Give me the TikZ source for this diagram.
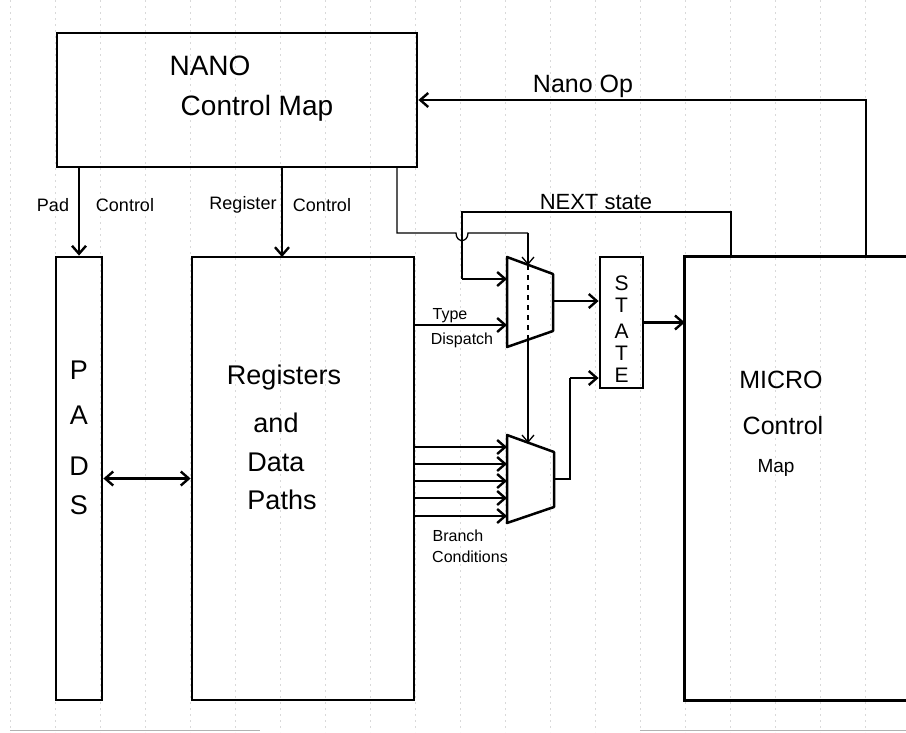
\documentclass[tikz,border=0pt]{standalone}
\usepackage{fontspec}
\setmainfont{Liberation Sans}
\usetikzlibrary{arrows.meta}
\tikzset{
  blk/.style={draw, line width=2.8pt, inner sep=0pt},
  arr/.style={line width=2.5pt, -{Straight Barb[length=8pt,width=14pt,line width=2.4pt]}},
  darr/.style={line width=2.5pt, {Straight Barb[length=8pt,width=14pt,line width=2.4pt]}-{Straight Barb[length=8pt,width=14pt,line width=2.4pt]}},
  tarr/.style={line width=1.3pt, -{Straight Barb[length=7pt,width=12pt,line width=1.3pt]}},
  wire/.style={line width=2.5pt},
  twire/.style={line width=1.3pt},
  muxl/.style={line width=2.5pt, line join=round},
  grid/.style={gray!30, line width=0.5pt, dash pattern=on 2pt off 4pt},
  lbl/.style={inner sep=0pt, font=\fontsize{#1}{#1}\selectfont},
}
\begin{document}
\begin{tikzpicture}[x=1pt,y=-1pt]
\useasboundingbox (0,0) rectangle (906,732);
% graph paper background
\foreach \gx in {10,55,...,865} { \draw[grid] (\gx,0) -- (\gx,732); }
\draw[gray!60, line width=0.8pt] (10,730) -- (260,730);
\draw[gray!60, line width=0.8pt] (640,730) -- (906,730);

% main blocks
\node[blk, minimum width=360pt, minimum height=134pt] (NANO) at (237,100) {};
\node[blk, minimum width=46pt, minimum height=443pt] (PADS) at (79,478.5) {};
\node[blk, minimum width=222pt, minimum height=443pt] (REG) at (303,478.5) {};
\node[blk, minimum width=43pt, minimum height=131pt] (STATE) at (621.5,322.5) {};
\node[inner sep=0pt, minimum width=240pt, minimum height=443pt] (MICRO) at (805,478.5) {};
\draw[line width=2.8pt] (MICRO.north east) -- (MICRO.north west) -- (MICRO.south west) -- (MICRO.south east);

% texts
\node[lbl=28] (tnano) at (210,66) {NANO};
\node[lbl=28] (tcmap) at (257,108) {Control Map};
\node[lbl=27] (tp) at (79,370) {P};
\node[lbl=27] (ta) at (79,415) {A};
\node[lbl=27] (td) at (79,466) {D};
\node[lbl=27] (ts) at (79,505) {S};
\node[lbl=27] (treg) at (284,378) {Registers};
\node[lbl=27] (tand) at (276,423) {and};
\node[lbl=27] (tdata) at (276,462) {Data};
\node[lbl=27] (tpaths) at (282,500) {Paths};
\node[lbl=25] (tmicro) at (781,380) {MICRO};
\node[lbl=25] (tctl) at (783,426) {Control};
\node[lbl=19] (tmap) at (776,468) {Map};
\node[lbl=21] (s1) at (621.5,283) {S};
\node[lbl=21] (s2) at (621.5,305) {T};
\node[lbl=21] (s3) at (621.5,331) {A};
\node[lbl=21] (s4) at (621.5,353) {T};
\node[lbl=21] (s5) at (621.5,375) {E};
\node[lbl=25] (tnop) at (583,86) {Nano Op};
\node[lbl=22] (tnext) at (596,202) {NEXT state};
\node[lbl=18] (tpad) at (53,205) {Pad};
\node[lbl=18] (tpc) at (125,205) {Control};
\node[lbl=18] (treg2) at (243,205) {Register};
\node[lbl=18] (trc) at (322,205) {Control};
\node[lbl=16] (ttype) at (450,316) {Type};
\node[lbl=16] (tdisp) at (462,340) {Dispatch};
\node[lbl=16] (tbr) at (458,536) {Branch};
\node[lbl=16] (tcond) at (470,557) {Conditions};

% multiplexers
\coordinate (ua) at (507,257); \coordinate (ub) at (553,274);
\coordinate (uc) at (553,331); \coordinate (ud) at (507,347);
\draw[muxl] (ua) -- (ub) -- (uc) -- (ud) -- cycle;
\coordinate (la) at (507,435); \coordinate (lb) at (554,452);
\coordinate (lc) at (554,507); \coordinate (ld) at (507,523);
\draw[muxl] (la) -- (lb) -- (lc) -- (ld) -- cycle;

% ports
\coordinate (uin1) at (507,279);
\coordinate (uin2) at (507,325);
\coordinate (uout) at (553,301);
\coordinate (usel) at (528,265);
\coordinate (ubot) at (528,340);
\coordinate (lsel) at (528,443);
\coordinate (lout) at (554,479);
\coordinate (rc) at (282,257);
\coordinate (nopsrc) at (866,257);
\coordinate (nextsrc) at (731,257);
\coordinate (selsrc) at (397,167);

% connectors
\draw[arr] (nopsrc) |- (NANO.east);
\draw[arr] (NANO.south -| PADS.north) -- (PADS.north);
\draw[arr] (NANO.south -| rc) -- (rc);
\draw[darr] (PADS.east) -- (REG.west);
\draw[wire] (nextsrc) -- (731,212) -- (462,212) -- (462,279);
\draw[arr] (462,279) -- (uin1);
\draw[twire] (selsrc) -- (397,233) -- (456,233) .. controls (456,243) and (468,243) .. (468,233) -- (528,233);
\draw[tarr] (528,233) -- (usel);
\draw[twire, dash pattern=on 5pt off 5pt] (usel) -- (ubot);
\draw[tarr] (ubot) -- (lsel);
\draw[arr] (REG.east |- uin2) -- (uin2);
\draw[arr] (uout) -- (STATE.west |- uout);
\draw[arr] (STATE.east) -- (MICRO.west |- STATE.east);
\foreach \yy in {447,464,481,498,516} { \draw[arr] (REG.east |- 0,\yy) -- (507,\yy); }
\draw[wire] (lout) -- (570,479) -- (570,378);
\draw[arr] (570,378) -- (STATE.west |- 0,378);
\end{tikzpicture}
\end{document}
